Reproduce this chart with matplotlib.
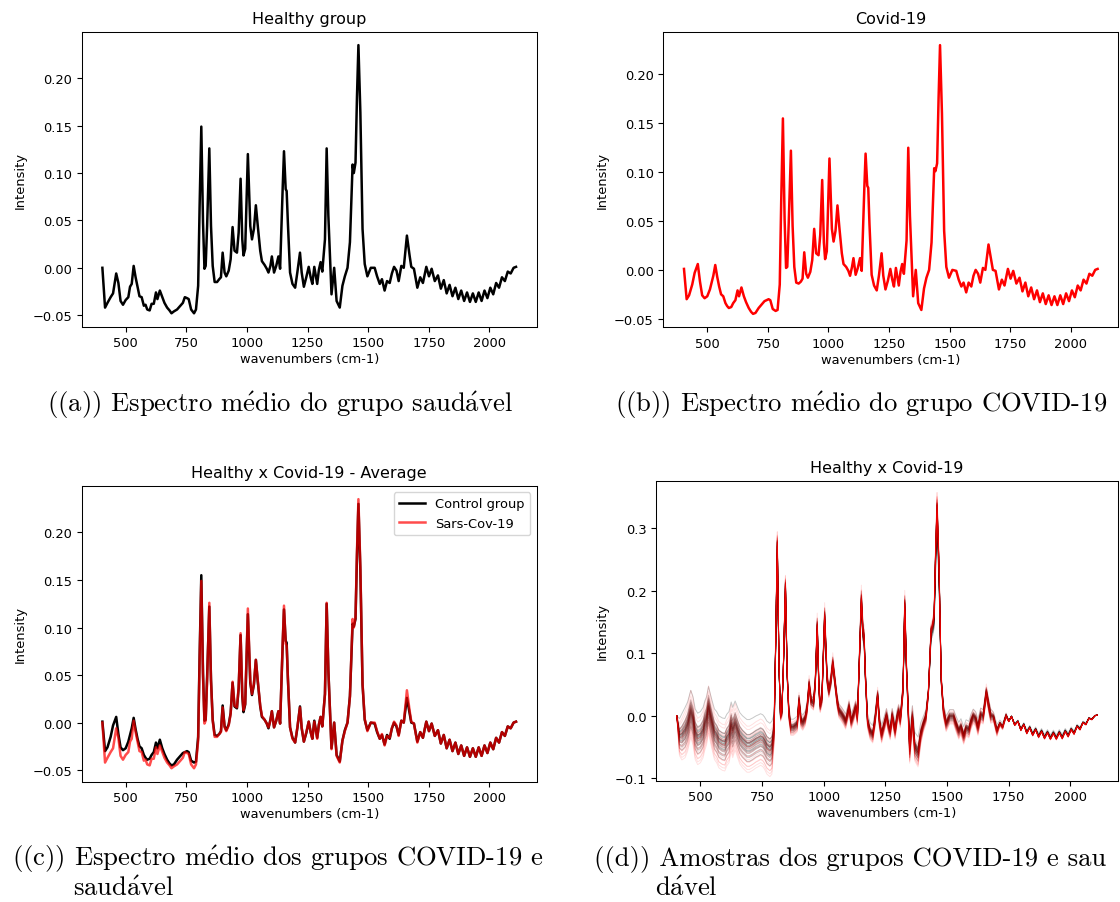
# Mean Raman spectra and individual samples, healthy vs Covid-19
import numpy as np
import matplotlib
matplotlib.use('Agg')
import matplotlib.pyplot as plt

plt.rcParams['mathtext.fontset'] = 'cm'

# wavenumber grid (cm-1)
wn = [404, 415, 425, 438, 448, 461, 470, 479, 489, 500,
      511, 518, 525, 533, 541, 549, 557, 566, 575, 582,
      589, 599, 607, 616, 625, 631, 641, 651, 660, 671,
      681, 689, 699, 712, 726, 736, 744, 753, 760, 770,
      782, 790, 799, 805, 812, 819, 825, 830, 836, 845,
      852, 859, 867, 877, 886, 893, 900, 908, 915, 925,
      933, 941, 949, 959, 966, 974, 981, 986, 993, 1004,
      1014, 1021, 1029, 1037, 1045, 1055, 1062, 1073, 1082, 1089,
      1097, 1103, 1112, 1121, 1130, 1137, 1148, 1153, 1160, 1164,
      1169, 1178, 1188, 1199, 1208, 1219, 1226, 1235, 1245, 1255,
      1263, 1270, 1278, 1290, 1297, 1304, 1311, 1322, 1329, 1336,
      1343, 1349, 1360, 1370, 1383, 1394, 1404, 1415, 1425, 1436,
      1441, 1448, 1454, 1460, 1468, 1477, 1486, 1497, 1511, 1527,
      1537, 1548, 1557, 1568, 1578, 1589, 1598, 1607, 1617, 1626,
      1637, 1647, 1660, 1671, 1678, 1689, 1703, 1715, 1726, 1740,
      1751, 1762, 1775, 1788, 1800, 1812, 1824, 1836, 1848, 1860,
      1872, 1884, 1896, 1908, 1920, 1932, 1944, 1956, 1968, 1980,
      1992, 2004, 2016, 2028, 2040, 2052, 2064, 2076, 2088, 2100,
      2110]

# average spectrum shown in "Healthy group"
avg_1 = [0.000, -0.042, -0.037, -0.031, -0.027, -0.006, -0.016, -0.035, -0.039, -0.034,
         -0.031, -0.020, -0.017, 0.002, -0.010, -0.020, -0.030, -0.031, -0.040, -0.039,
         -0.044, -0.045, -0.038, -0.038, -0.026, -0.033, -0.024, -0.031, -0.037, -0.042,
         -0.045, -0.048, -0.046, -0.044, -0.040, -0.037, -0.031, -0.032, -0.033, -0.044,
         -0.048, -0.044, -0.019, 0.065, 0.149, 0.048, -0.001, 0.002, 0.044, 0.126,
         0.044, 0.002, -0.015, -0.015, -0.012, -0.010, 0.016, -0.005, -0.009, -0.003,
         0.009, 0.043, 0.018, 0.016, 0.037, 0.094, 0.030, 0.013, 0.020, 0.120,
         0.044, 0.030, 0.041, 0.066, 0.044, 0.018, 0.007, 0.003, -0.001, -0.005,
         0.002, 0.012, -0.005, 0.002, 0.012, -0.001, 0.087, 0.123, 0.083, 0.081,
         0.048, -0.005, -0.017, -0.021, -0.005, 0.016, -0.005, -0.020, -0.010, 0.001,
         -0.010, -0.017, 0.001, -0.017, -0.002, 0.006, -0.004, 0.030, 0.126, 0.055,
         0.010, -0.028, 0.000, -0.035, -0.042, -0.019, -0.009, 0.000, 0.027, 0.109,
         0.100, 0.111, 0.180, 0.235, 0.164, 0.041, 0.004, -0.009, 0.000, 0.000,
         -0.009, -0.017, -0.012, -0.024, -0.014, -0.016, -0.006, 0.001, -0.003, -0.014,
         0.002, 0.000, 0.034, 0.013, 0.001, -0.001, -0.021, -0.010, -0.016, 0.001,
         -0.009, -0.001, -0.014, -0.008, -0.022, -0.013, -0.027, -0.018, -0.030, -0.021,
         -0.033, -0.024, -0.035, -0.026, -0.036, -0.027, -0.036, -0.026, -0.035, -0.024,
         -0.032, -0.021, -0.028, -0.016, -0.021, -0.010, -0.014, -0.004, -0.006, 0.000,
         0.001]

# average spectrum shown in "Covid-19"
avg_2 = [0.001, -0.030, -0.026, -0.015, -0.003, 0.006, -0.012, -0.026, -0.029, -0.027,
         -0.020, -0.013, -0.006, 0.005, -0.007, -0.017, -0.025, -0.027, -0.034, -0.037,
         -0.039, -0.038, -0.034, -0.031, -0.021, -0.027, -0.018, -0.027, -0.033, -0.039,
         -0.043, -0.045, -0.044, -0.039, -0.035, -0.032, -0.031, -0.030, -0.031, -0.040,
         -0.042, -0.041, -0.015, 0.070, 0.155, 0.052, 0.002, 0.003, 0.048, 0.122,
         0.045, 0.003, -0.013, -0.014, -0.012, -0.009, 0.018, -0.004, -0.008, -0.002,
         0.010, 0.042, 0.017, 0.015, 0.036, 0.092, 0.028, 0.011, 0.019, 0.114,
         0.042, 0.029, 0.040, 0.066, 0.043, 0.017, 0.006, 0.003, -0.001, -0.006,
         0.003, 0.012, -0.005, 0.002, 0.012, -0.001, 0.085, 0.119, 0.086, 0.084,
         0.047, -0.005, -0.016, -0.021, -0.006, 0.017, -0.006, -0.020, -0.011, 0.001,
         -0.010, -0.017, 0.002, -0.016, -0.002, 0.006, -0.004, 0.030, 0.125, 0.055,
         0.010, -0.027, 0.000, -0.034, -0.041, -0.019, -0.008, 0.000, 0.028, 0.104,
         0.101, 0.109, 0.175, 0.230, 0.160, 0.040, 0.003, -0.008, 0.000, -0.001,
         -0.010, -0.017, -0.013, -0.023, -0.013, -0.017, -0.006, 0.000, -0.004, -0.013,
         0.002, 0.000, 0.026, 0.010, 0.000, -0.001, -0.020, -0.010, -0.016, 0.001,
         -0.009, -0.001, -0.014, -0.008, -0.022, -0.013, -0.027, -0.018, -0.030, -0.021,
         -0.033, -0.024, -0.035, -0.026, -0.036, -0.027, -0.036, -0.026, -0.035, -0.024,
         -0.032, -0.021, -0.028, -0.016, -0.021, -0.010, -0.014, -0.004, -0.006, 0.000,
         0.001]

# central spectrum of the individual samples
sample_base = [0.000, -0.032, -0.030, -0.022, -0.012, 0.010, -0.002, -0.025, -0.033, -0.030,
               -0.022, -0.010, -0.002, 0.017, 0.002, -0.012, -0.025, -0.030, -0.038, -0.040,
               -0.042, -0.043, -0.035, -0.030, -0.012, -0.022, -0.010, -0.022, -0.032, -0.038,
               -0.042, -0.045, -0.045, -0.042, -0.038, -0.036, -0.034, -0.036, -0.040, -0.048,
               -0.052, -0.048, -0.020, 0.110, 0.280, 0.080, 0.000, 0.005, 0.070, 0.213,
               0.070, 0.005, -0.018, -0.018, -0.015, -0.012, 0.027, -0.006, -0.010, -0.003,
               0.014, 0.053, 0.026, 0.022, 0.055, 0.149, 0.045, 0.018, 0.030, 0.165,
               0.062, 0.042, 0.058, 0.088, 0.060, 0.025, 0.010, 0.004, -0.002, -0.008,
               0.004, 0.016, -0.008, 0.003, 0.016, -0.002, 0.130, 0.192, 0.135, 0.131,
               0.070, -0.007, -0.024, -0.030, -0.007, 0.035, -0.007, -0.030, -0.014, 0.002,
               -0.015, -0.025, 0.002, -0.024, -0.003, 0.009, -0.006, 0.045, 0.184, 0.080,
               0.012, -0.053, 0.000, -0.050, -0.059, -0.028, -0.013, 0.000, 0.040, 0.140,
               0.144, 0.160, 0.260, 0.340, 0.240, 0.060, 0.010, -0.012, 0.000, 0.000,
               -0.012, -0.024, -0.017, -0.032, -0.019, -0.022, -0.008, 0.001, -0.004, -0.018,
               0.003, 0.000, 0.040, 0.015, 0.001, -0.001, -0.024, -0.012, -0.018, 0.001,
               -0.009, -0.001, -0.015, -0.009, -0.023, -0.014, -0.028, -0.019, -0.031, -0.022,
               -0.034, -0.025, -0.036, -0.027, -0.037, -0.028, -0.037, -0.027, -0.036, -0.025,
               -0.033, -0.022, -0.029, -0.017, -0.022, -0.011, -0.014, -0.004, -0.006, 0.000,
               0.001]

# how strongly each sample's baseline departs from the centre, per wavenumber
sample_spread = [0.0, 0.7, 0.9, 1, 1, 1, 1, 1, 1, 1,
                 1, 1, 1, 1, 1, 1, 1, 1, 1, 1,
                 1, 1, 1, 1, 1, 1, 1, 1, 1, 1,
                 1, 1, 1, 1, 1, 1, 1, 1, 1, 1,
                 1, 1, 0.6, 0.3, 0.1, 0.1, 0.2, 0.2, 0.1, 0.1,
                 0.2, 0.3, 0.3, 0.3, 0.3, 0.3, 0.3, 0.3, 0.3, 0.3,
                 0.3, 0.3, 0.3, 0.3, 0.3, 0.3, 0.3, 0.3, 0.3, 0.3,
                 0.3, 0.3, 0.3, 0.3, 0.3, 0.3, 0.3, 0.3, 0.3, 0.3,
                 0.3, 0.3, 0.3, 0.3, 0.3, 0.3, 0.3, 0.3, 0.3, 0.3,
                 0.3, 0.3, 0.3, 0.3, 0.3, 0.3, 0.3, 0.3, 0.3, 0.3,
                 0.3, 0.3, 0.3, 0.3, 0.3, 0.3, 0.3, 0.3, 0.3, 0.3,
                 0.4, 0.5, 0.5, 0.5, 0.5, 0.4, 0.3, 0.3, 0.2, 0.1,
                 0.1, 0.1, 0.1, 0.1, 0.1, 0.2, 0.3, 0.3, 0.3, 0.3,
                 0.3, 0.3, 0.3, 0.3, 0.3, 0.3, 0.3, 0.3, 0.3, 0.3,
                 0.3, 0.3, 0.3, 0.3, 0.3, 0.2, 0.2, 0.1, 0.1, 0.1,
                 0.02, 0.02, 0.02, 0.02, 0.02, 0.02, 0.02, 0.02, 0.02, 0.02,
                 0.02, 0.02, 0.02, 0.02, 0.02, 0.02, 0.02, 0.02, 0.02, 0.02,
                 0.02, 0.02, 0.02, 0.02, 0.02, 0.02, 0.02, 0.02, 0.02, 0.02,
                 0.0]

healthy_shift = [0.032, 0.015, 0.012, 0.009, 0.007, 0.005, 0.004, 0.002, 0.001, 0.000,
                 -0.001, -0.002, -0.003, -0.004, -0.005, -0.006, -0.008, -0.009, -0.011, -0.013,
                 -0.015, -0.017, -0.020, -0.024, -0.028]
healthy_gain = [0.85, 1.01, 0.95, 0.99, 0.97, 1.00, 0.92, 1.00, 0.96, 0.99,
                0.93, 1.00, 0.98, 0.90, 0.99, 0.95, 1.00, 0.93, 0.99, 0.97,
                1.00, 0.91, 0.98, 0.95, 1.00]
covid_shift = [0.030, 0.022, 0.016, 0.012, 0.009, 0.006, 0.004, 0.002, 0.000, -0.002,
               -0.004, -0.006, -0.008, -0.010, -0.013, -0.016, -0.019, -0.022, -0.025, -0.028,
               -0.031, -0.034, -0.037, -0.041, -0.045]
covid_gain = [1.04, 0.98, 1.02, 1.00, 0.96, 1.03, 0.99, 1.01, 0.97, 1.05,
              1.00, 0.98, 1.02, 0.95, 1.01, 0.99, 1.03, 0.97, 1.00, 1.02,
              0.96, 1.04, 0.98, 1.00, 1.01]

FS = 9.4
plt.rcParams['font.size'] = FS
plt.rcParams['axes.titlesize'] = 11.5
plt.rcParams['axes.linewidth'] = 0.75
plt.rcParams['xtick.major.size'] = 3.3
plt.rcParams['ytick.major.size'] = 3.3

fig = plt.figure(figsize=(11.2, 9.03), dpi=100)
W, H = 1120.0, 903.0

def add_ax(left, top, right, bottom):
    return fig.add_axes([left / W, 1 - bottom / H, (right - left) / W, (bottom - top) / H])

x = np.array(wn)

# (a) healthy group
ax = add_ax(81.7, 32.7, 536.7, 327.7)
ax.plot(x, avg_1, color='black', lw=1.8)
ax.set_title('Healthy group')
ax.set_xlabel('wavenumbers (cm-1)', labelpad=2)
ax.set_ylabel('Intensity')

# (b) covid group
ax = add_ax(663.3, 32.7, 1118.3, 328.3)
ax.plot(x, avg_2, color='red', lw=1.8)
ax.set_title('Covid-19')
ax.set_xlabel('wavenumbers (cm-1)', labelpad=2)
ax.set_ylabel('Intensity')

# (c) both averages
ax = add_ax(81.7, 486.7, 536.7, 782.7)
ax.plot(x, avg_2, color='black', lw=1.8, label='Control group')
ax.plot(x, avg_1, color='red', lw=1.8, alpha=0.7, label='Sars-Cov-19')
ax.set_title('Healthy x Covid-19 - Average')
ax.set_xlabel('wavenumbers (cm-1)', labelpad=2)
ax.set_ylabel('Intensity')
ax.legend(loc='upper right', fontsize=FS)

# (d) every sample
ax = add_ax(655.7, 481.5, 1118.3, 781.7)
base = np.array(sample_base)
spread = np.array(sample_spread)
for g, s in zip(healthy_gain, healthy_shift):
    ax.plot(x, base * g + s * spread, color='black', lw=0.7, alpha=0.22)
for g, s in zip(covid_gain, covid_shift):
    ax.plot(x, base * g + s * spread, color='red', lw=0.7, alpha=0.12)
ax.set_ylim(-0.104, 0.376)
ax.set_title('Healthy x Covid-19')
ax.set_xlabel('wavenumbers (cm-1)', labelpad=2)
ax.set_ylabel('Intensity')

# captions
cap = dict(fontsize=19.2, family='cmr10', va='baseline')
acc_e = r'$\mathrm{\acute{e}}$'
acc_a = r'$\mathrm{\acute{a}}$'
fig.text(47 / W, 1 - 412 / H, '((a)) Espectro m' + acc_e + 'dio do grupo saud' + acc_a + 'vel', **cap)
fig.text(615 / W, 1 - 412 / H, '((b)) Espectro m' + acc_e + 'dio do grupo COVID-19', **cap)
fig.text(12 / W, 1 - 866 / H, '((c)) Espectro m' + acc_e + 'dio dos grupos COVID-19 e', **cap)
fig.text(73 / W, 1 - 896 / H, 'saud' + acc_a + 'vel', **cap)
fig.text(594 / W, 1 - 866 / H, '((d)) Amostras dos grupos COVID-19 e sau', **cap)
fig.text(655 / W, 1 - 896 / H, 'd' + acc_a + 'vel', **cap)

fig.savefig('out.png', dpi=100)
